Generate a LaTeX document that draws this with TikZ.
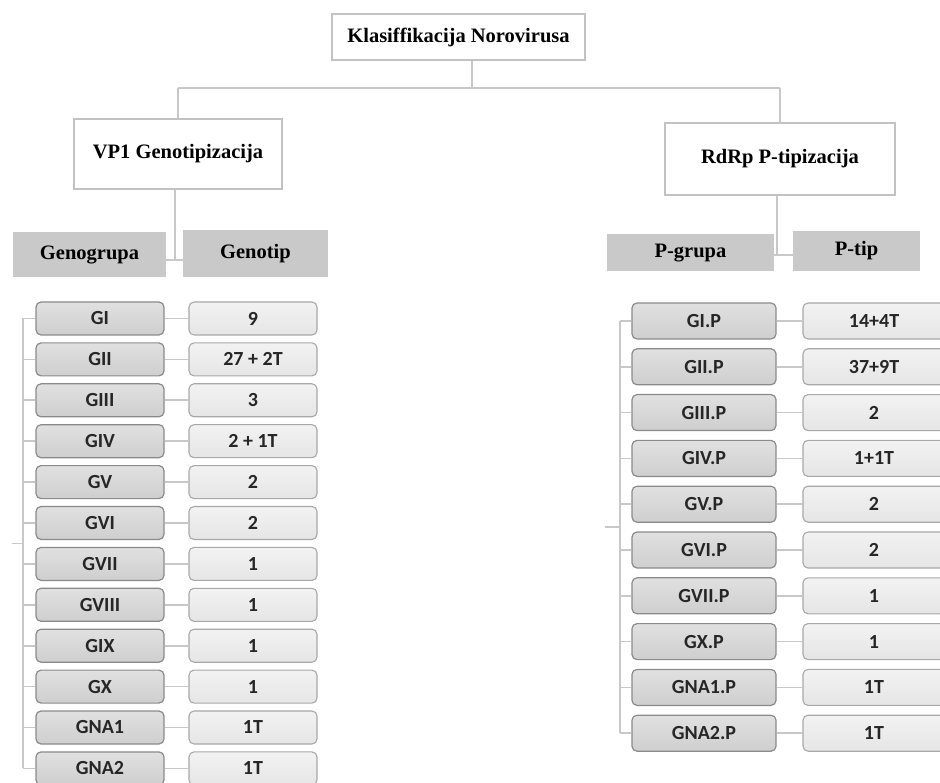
\documentclass[tikz,border=0pt]{standalone}
\usepackage{fontspec}
\setmainfont{Liberation Serif}
\newfontfamily\listfont{Carlito}
\usetikzlibrary{positioning}
\definecolor{linegray}{HTML}{C8C8C8}
\definecolor{framegray}{HTML}{C2C2C2}
\definecolor{headgray}{HTML}{C9C9C9}
\definecolor{groupedge}{HTML}{8A8A8A}
\definecolor{valedge}{HTML}{A8A8A8}
\definecolor{listtext}{HTML}{262626}

\begin{document}
\begin{tikzpicture}[x=1pt,y=-1pt,
    link/.style={draw=linegray, line width=2pt},
    treelink/.style={draw=linegray, line width=1.6pt},
    topbox/.style={draw=framegray, line width=2.6pt, fill=white, inner sep=0pt,
        font=\fontsize{20.5}{24}\selectfont\bfseries},
    headbox/.style={fill=headgray, inner sep=0pt, text height=14pt, text depth=4pt,
        font=\fontsize{20.5}{24}\selectfont\bfseries},
    groupbox/.style={draw=groupedge, line width=1.2pt, rounded corners=5pt,
        top color=gray!24, bottom color=gray!38, inner sep=0pt,
        text=listtext, font=\listfont\fontsize{20}{22}\selectfont\bfseries},
    valbox/.style={draw=valedge, line width=1.1pt, rounded corners=5pt,
        top color=gray!10, bottom color=gray!20, inner sep=0pt,
        text=listtext, font=\listfont\fontsize{20}{22}\selectfont\bfseries}]
    \useasboundingbox (0,0) rectangle (940,783);

    \node[topbox, minimum width=253pt, minimum height=46pt] (root) at (458.5,37) {Klasiffikacija Norovirusa};
    \node[topbox, minimum width=208pt, minimum height=70pt] (vp1) at (178,154) {VP1 Genotipizacija};
    \node[topbox, minimum width=230pt, minimum height=72pt] (rdrp) at (780,159) {RdRp P-tipizacija};

    \node[headbox, minimum width=153pt, minimum height=45pt] (genogrupa) at (89.5,254.5) {Genogrupa\hspace{14pt}};
    \node[headbox, minimum width=145pt, minimum height=47pt] (genotip) at (255.5,253.5) {Genotip\hspace{20pt}};
    \node[headbox, minimum width=167pt, minimum height=37pt] (pgrupa) at (690.5,252.5) {P-grupa\hspace{14pt}};
    \node[headbox, minimum width=127pt, minimum height=40pt] (ptip) at (856.5,251) {P-tip};

    \coordinate (hub) at (472,88);
    \coordinate (vp1foot) at (175,260);
    \coordinate (rdrpfoot) at (777,255);
    \draw[link] (root.south -| hub) -- (hub);
    \draw[link] (vp1.north |- hub) -- (rdrp.north |- hub);
    \draw[link] (vp1.north |- hub) -- (vp1.north);
    \draw[link] (rdrp.north |- hub) -- (rdrp.north);
    \draw[link] (vp1.south -| vp1foot) -- (vp1foot);
    \draw[link] (genogrupa.east |- vp1foot) -- (genotip.west |- vp1foot);
    \draw[link] (rdrp.south -| rdrpfoot) -- (rdrpfoot);
    \draw[link] (pgrupa.east |- rdrpfoot) -- (ptip.west |- rdrpfoot);

    \coordinate (spineL) at (23,0);
    \coordinate (stubL) at (12,543.5);
    \foreach \g/\v [count=\i] in {GI/9, GII/27 + 2T, GIII/3, GIV/2 + 1T, GV/2, GVI/2,
        GVII/1, GVIII/1, GIX/1, GX/1, GNA1/1T, GNA2/1T} {
        \node[groupbox, minimum width=128pt, minimum height=33pt] (gl\i) at (100,{318.5+40.9*(\i-1)}) {\g};
        \node[valbox, minimum width=128pt, minimum height=33pt] (vl\i) at (253,{318.5+40.9*(\i-1)}) {\v};
        \draw[treelink] (gl\i) -- (vl\i);
        \draw[treelink] (gl\i.west -| spineL) -- (gl\i.west);
    }
    \draw[treelink] (gl1.west -| spineL) -- (gl12.west -| spineL);
    \draw[treelink] (stubL) -- (stubL -| spineL);

    \coordinate (spineR) at (620,0);
    \coordinate (stubR) at (605,527);
    \foreach \g/\v [count=\i] in {GI.P/14+4T, GII.P/37+9T, GIII.P/2, GIV.P/1+1T, GV.P/2,
        GVI.P/2, GVII.P/1, GX.P/1, GNA1.P/1T, GNA2.P/1T} {
        \node[groupbox, minimum width=144pt, minimum height=36pt] (gr\i) at (704,{321+45.8*(\i-1)}) {\g};
        \node[valbox, minimum width=142pt, minimum height=36pt] (vr\i) at (874,{321+45.8*(\i-1)}) {\v};
        \draw[treelink] (gr\i) -- (vr\i);
        \draw[treelink] (gr\i.west -| spineR) -- (gr\i.west);
    }
    \draw[treelink] (gr1.west -| spineR) -- (gr10.west -| spineR);
    \draw[treelink] (stubR) -- (stubR -| spineR);
\end{tikzpicture}
\end{document}
